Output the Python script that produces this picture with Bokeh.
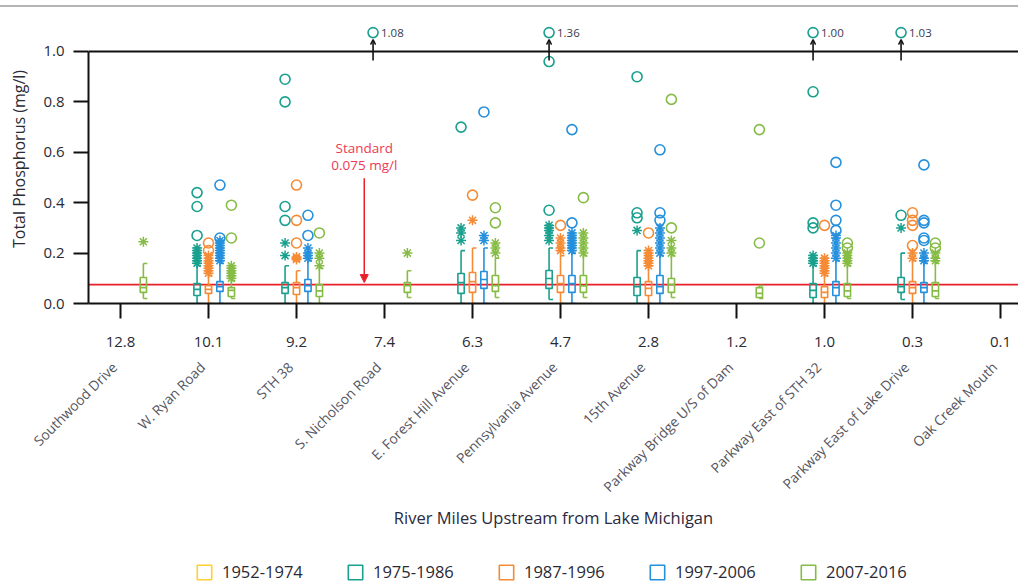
import math
from bokeh.plotting import figure
from bokeh.layouts import column
from bokeh.models import (Range1d, LinearAxis, FixedTicker, Span, Arrow, NormalHead,
                          OpenHead, Legend, LegendItem, Label, PrintfTickFormatter,
                          ColumnDataSource)
from bokeh.embed import file_html
from bokeh.resources import INLINE

# ---------------- data ----------------
STATIONS = ["Southwood Drive", "W. Ryan Road", "STH 38", "S. Nicholson Road",
            "E. Forest Hill Avenue", "Pennsylvania Avenue", "15th Avenue",
            "Parkway Bridge U/S of Dam", "Parkway East of STH 32",
            "Parkway East of Lake Drive", "Oak Creek Mouth"]
RIVER_MILES = ["12.8", "10.1", "9.2", "7.4", "6.3", "4.7", "2.8", "1.2", "1.0", "0.3", "0.1"]
PERIODS = ["1952-1974", "1975-1986", "1987-1996", "1997-2006", "2007-2016"]
COLORS = ["#FFD02E", "#1AA08E", "#F58B35", "#2590DC", "#86BC45"]

# box statistics per station: (low whisker, q1, median, q3, high whisker); None = no data
BOX_1952 = [None] * 11
BOX_1975 = [None,
            (0.0, 0.032, 0.056, 0.079, 0.15),
            (0.0, 0.040, 0.063, 0.083, 0.15),
            None,
            (0.0, 0.040, 0.083, 0.119, 0.21),
            (0.016, 0.060, 0.099, 0.131, 0.22),
            (0.0, 0.032, 0.067, 0.103, 0.21),
            None,
            (0.0, 0.024, 0.052, 0.079, 0.15),
            (0.016, 0.044, 0.067, 0.103, 0.20),
            None]
BOX_1987 = [None,
            (0.0, 0.040, 0.056, 0.071, 0.11),
            (0.0, 0.036, 0.063, 0.083, 0.13),
            None,
            (0.0, 0.044, 0.087, 0.123, 0.22),
            (0.0, 0.044, 0.079, 0.111, 0.19),
            (0.0, 0.032, 0.060, 0.087, 0.15),
            None,
            (-0.01, 0.024, 0.044, 0.067, 0.11),
            (0.0, 0.040, 0.063, 0.087, 0.17),
            None]
BOX_1997 = [None,
            (0.0, 0.048, 0.067, 0.087, 0.16),
            (0.0, 0.048, 0.071, 0.095, 0.17),
            None,
            (0.0, 0.060, 0.095, 0.127, 0.22),
            (0.0, 0.044, 0.079, 0.111, 0.20),
            (0.0, 0.040, 0.067, 0.111, 0.19),
            None,
            (0.0, 0.032, 0.063, 0.087, 0.17),
            (0.0, 0.044, 0.063, 0.083, 0.16),
            None]
BOX_2007 = [(0.02, 0.044, 0.063, 0.103, 0.159),
            (0.02, 0.028, 0.052, 0.063, 0.09),
            (0.0, 0.028, 0.050, 0.075, 0.14),
            (0.024, 0.044, 0.071, 0.083, 0.13),
            (0.024, 0.048, 0.071, 0.111, 0.18),
            (0.024, 0.044, 0.070, 0.111, 0.19),
            (0.024, 0.044, 0.075, 0.099, 0.19),
            (0.02, 0.024, 0.040, 0.063, 0.071),
            (0.02, 0.028, 0.050, 0.079, 0.15),
            (0.02, 0.028, 0.050, 0.083, 0.16),
            (0.02, 0.030, 0.050, 0.070, 0.15)]

# outliers (asterisks) and far outliers (circles)
NEAR_1952 = [[]] * 11
FAR_1952 = [[]] * 11
NEAR_1975 = [[], [0.16, 0.17, 0.18, 0.19, 0.20, 0.21, 0.22], [0.19, 0.24], [],
             [0.25, 0.28, 0.30], [0.25, 0.27, 0.29, 0.30, 0.31], [0.29], [],
             [0.16, 0.17, 0.18, 0.19], [0.30], []]
FAR_1975 = [[], [0.27, 0.385, 0.44], [0.33, 0.385, 0.80, 0.89], [],
            [0.70], [0.37, 0.96], [0.34, 0.36, 0.90], [],
            [0.30, 0.32, 0.84], [0.35], []]
NEAR_1987 = [[], [0.12, 0.13, 0.14, 0.15, 0.16, 0.17, 0.18, 0.19], [0.175, 0.18, 0.185], [],
             [0.33], [0.21, 0.22, 0.24, 0.26], [0.15, 0.16, 0.17, 0.18, 0.19, 0.20, 0.21], [],
             [0.12, 0.13, 0.14, 0.15, 0.16, 0.17, 0.18], [0.18, 0.20], []]
FAR_1987 = [[], [0.21, 0.24], [0.24, 0.33, 0.47], [],
            [0.43], [0.31], [0.28], [],
            [0.31], [0.23, 0.31, 0.33, 0.36], []]
NEAR_1997 = [[], [0.17, 0.18, 0.19, 0.20, 0.21, 0.22, 0.23, 0.24, 0.25], [0.18, 0.19, 0.20, 0.22], [],
             [0.25, 0.27], [0.21, 0.22, 0.23, 0.24, 0.25, 0.26, 0.27, 0.28],
             [0.20, 0.22, 0.24, 0.26, 0.28, 0.30], [],
             [0.18, 0.20, 0.22, 0.24, 0.26, 0.27], [0.17, 0.18, 0.20], []]
FAR_1997 = [[], [0.26, 0.47], [0.27, 0.35], [],
            [0.76], [0.32, 0.69], [0.33, 0.36, 0.61], [],
            [0.29, 0.33, 0.39, 0.56], [0.25, 0.26, 0.32, 0.33, 0.55], []]
NEAR_2007 = [[0.245], [0.10, 0.11, 0.12, 0.13, 0.14, 0.15], [0.15, 0.18, 0.20], [0.20],
             [0.20, 0.22, 0.24], [0.20, 0.22, 0.24, 0.26, 0.28], [0.20, 0.22, 0.25], [],
             [0.16, 0.17, 0.18, 0.19, 0.20], [0.17, 0.18, 0.20], [0.16]]
FAR_2007 = [[], [0.26, 0.39], [0.28], [],
            [0.32, 0.38], [0.42], [0.30, 0.81], [0.24, 0.69],
            [0.22, 0.24], [0.22, 0.24], []]

# values above the axis maximum (station index, period index, value)
OFFSCALE_STATION = [3, 5, 8, 9]
OFFSCALE_PERIOD = [1, 1, 1, 1]
OFFSCALE_VALUE = [1.08, 1.36, 1.00, 1.03]

STANDARD = 0.075
STANDARD_TEXT = ["Standard", "0.075 mg/l"]

# ---------------- styling constants ----------------
FONT = "Open Sans"
GROUP_STEP = 0.13
BOX_W = 0.072
CAP_W = 0.045
X_START, X_END = -0.3636, 10.2045
NAME_SHIFT = 0.07
Y_TOP = 1.1468
OFFSCALE_Y = 1.075
RED = "#E8202A"
RED_TEXT = "#EE3A55"
DARK = "#111111"
TXT = "#2a2a35"

BOXES = [BOX_1952, BOX_1975, BOX_1987, BOX_1997, BOX_2007]
NEARS = [NEAR_1952, NEAR_1975, NEAR_1987, NEAR_1997, NEAR_2007]
FARS = [FAR_1952, FAR_1975, FAR_1987, FAR_1997, FAR_2007]

p = figure(width=1018, height=548, output_backend="svg", toolbar_location=None,
           x_range=Range1d(X_START, X_END), y_range=Range1d(0, Y_TOP),
           min_border_left=88, min_border_right=0, min_border_top=7, min_border_bottom=252)
p.extra_x_ranges = {"names": Range1d(X_START + NAME_SHIFT, X_END + NAME_SHIFT)}
p.styles = {"border-top": "2px solid #b4b4b4", "margin-top": "5px"}
p.outline_line_color = None
p.xgrid.visible = False
p.ygrid.visible = False

# standard line
p.add_layout(Span(location=STANDARD, dimension="width", line_color=RED, line_width=1.6,
                  level="underlay"))
# top frame line at y = 1.0
p.add_layout(Span(location=1.0, dimension="width", line_color=DARK, line_width=2))

for k in range(len(PERIODS)):
    off = (k - 2) * GROUP_STEP
    col = COLORS[k]
    bx = dict(x=[], q1=[], q3=[])
    seg = dict(x0=[], y0=[], x1=[], y1=[])
    nx, ny, fx, fy = [], [], [], []
    for i, b in enumerate(BOXES[k]):
        x = i + off
        if b is not None:
            lo, q1, med, q3, hi = b
            bx["x"].append(x); bx["q1"].append(q1); bx["q3"].append(q3)
            for (a0, b0, a1, b1) in [(x, lo, x, q1), (x, q3, x, hi),
                                     (x - BOX_W / 2, med, x + BOX_W / 2, med),
                                     (x, hi, x + CAP_W, hi), (x, lo, x + CAP_W, lo)]:
                seg["x0"].append(a0); seg["y0"].append(b0)
                seg["x1"].append(a1); seg["y1"].append(b1)
        for v in NEARS[k][i]:
            nx.append(x); ny.append(v)
        for v in FARS[k][i]:
            fx.append(x); fy.append(v)
    if bx["x"]:
        src = ColumnDataSource(dict(left=[x - BOX_W / 2 for x in bx["x"]],
                                    right=[x + BOX_W / 2 for x in bx["x"]],
                                    bottom=bx["q1"], top=bx["q3"]))
        p.segment(x0="x0", y0="y0", x1="x1", y1="y1", source=ColumnDataSource(seg),
                  line_color=col, line_width=1.6)
        p.quad(left="left", right="right", bottom="bottom", top="top", source=src,
               fill_alpha=0, line_color=col, line_width=1.6)
    if nx:
        p.scatter(nx, ny, marker="asterisk", size=10, line_color=col, line_width=1.5)
    if fx:
        p.scatter(fx, fy, marker="circle", size=10, fill_alpha=0, line_color=col,
                  line_width=1.6)

# off-scale values
ox = [OFFSCALE_STATION[j] + (OFFSCALE_PERIOD[j] - 2) * GROUP_STEP for j in range(len(OFFSCALE_VALUE))]
for j, x in enumerate(ox):
    p.add_layout(Arrow(x_start=x, y_start=0.964, x_end=x, y_end=1.047, line_color=DARK,
                       line_width=1.6,
                       end=OpenHead(size=5, line_color=DARK, line_width=1.4)))
    p.add_layout(Label(x=x + 0.09, y=OFFSCALE_Y, text=f"{OFFSCALE_VALUE[j]:.2f}",
                       text_font=FONT, text_font_size="11.5px", text_color="#3a3a4a",
                       text_baseline="middle"))
p.scatter(ox, [OFFSCALE_Y] * len(ox), marker="circle", size=10, fill_alpha=0,
          line_color=[COLORS[k] for k in OFFSCALE_PERIOD], line_width=1.6)

# standard annotation
sx = 2.77
p.add_layout(Label(x=sx, y=0.619, text=STANDARD_TEXT[0], text_font=FONT,
                   text_font_size="13.5px", text_color=RED_TEXT, text_align="center",
                   text_baseline="middle"))
p.add_layout(Label(x=sx, y=0.548, text=STANDARD_TEXT[1], text_font=FONT,
                   text_font_size="13.5px", text_color=RED_TEXT, text_align="center",
                   text_baseline="middle"))
p.add_layout(Arrow(x_start=sx, y_start=0.497, x_end=sx, y_end=STANDARD + 0.008,
                   line_color=RED, line_width=1.5,
                   end=NormalHead(size=8, fill_color=RED, line_color=RED)))

# y axis
ya = p.yaxis[0]
ya.ticker = FixedTicker(ticks=[0.0, 0.2, 0.4, 0.6, 0.8, 1.0])
ya.formatter = PrintfTickFormatter(format="%.1f")
ya.bounds = (0, 1.0)
ya.axis_line_width = 2
ya.axis_line_color = DARK
ya.major_tick_line_width = 2
ya.major_tick_line_color = DARK
ya.major_tick_out = 15
ya.major_tick_in = 0
ya.minor_tick_line_color = None
ya.major_label_standoff = 9
ya.major_label_text_font = FONT
ya.major_label_text_font_size = "15px"
ya.major_label_text_color = TXT
ya.axis_label = "Total Phosphorus (mg/l)"
ya.axis_label_standoff = 10
ya.axis_label_text_font = FONT
ya.axis_label_text_font_size = "16px"
ya.axis_label_text_font_style = "normal"
ya.axis_label_text_color = TXT

ticks = list(range(len(STATIONS)))
# x axis: river miles
xa = p.xaxis[0]
xa.ticker = FixedTicker(ticks=ticks)
xa.major_label_overrides = {i: RIVER_MILES[i] for i in ticks}
xa.axis_line_width = 2
xa.axis_line_color = DARK
xa.major_tick_line_width = 2
xa.major_tick_line_color = DARK
xa.major_tick_out = 15
xa.major_tick_in = 0
xa.minor_tick_line_color = None
xa.major_label_standoff = 18
xa.major_label_text_font = FONT
xa.major_label_text_font_size = "15px"
xa.major_label_text_color = TXT

# x axis: station names (slightly shifted range so the text ends at the tick)
xa2 = LinearAxis(x_range_name="names", ticker=FixedTicker(ticks=ticks),
                 major_label_overrides={i: STATIONS[i] for i in ticks},
                 major_label_orientation=math.pi / 4,
                 axis_line_color=None, major_tick_line_color=None,
                 minor_tick_line_color=None, major_tick_out=0, major_tick_in=0,
                 major_label_standoff=15,
                 major_label_text_font=FONT, major_label_text_font_size="13.8px",
                 major_label_text_color="#555560",
                 axis_label="River Miles Upstream from Lake Michigan",
                 axis_label_standoff=0, axis_label_text_font=FONT,
                 axis_label_text_font_size="16.5px", axis_label_text_font_style="normal",
                 axis_label_text_color="#2a2a40")
p.add_layout(xa2, "below")

# legend in its own strip below the chart
lg = figure(width=1018, height=30, output_backend="svg", toolbar_location=None,
            x_axis_type=None, y_axis_type=None, min_border=0, min_border_left=88,
            min_border_right=0, min_border_top=0, min_border_bottom=0,
            x_range=Range1d(0, 1), y_range=Range1d(0, 1))
lg.outline_line_color = None
lg.xgrid.visible = False
lg.ygrid.visible = False
items = []
for k in range(len(PERIODS)):
    r = lg.quad(left=[float("nan")], right=[float("nan")], bottom=[float("nan")],
                top=[float("nan")], fill_alpha=0, line_color=COLORS[k], line_width=1.6)
    items.append(LegendItem(label=PERIODS[k], renderers=[r]))
legend = Legend(items=items, orientation="horizontal", location=(107, 0),
                glyph_width=18, glyph_height=18, label_standoff=9, spacing=43,
                label_width=81, label_text_font=FONT, label_text_font_size="16.5px",
                label_text_color=TXT, border_line_color=None,
                background_fill_alpha=0, padding=2, margin=0)
lg.add_layout(legend, "center")

open("out.html", "w").write(file_html(column(p, lg, spacing=0), INLINE))
